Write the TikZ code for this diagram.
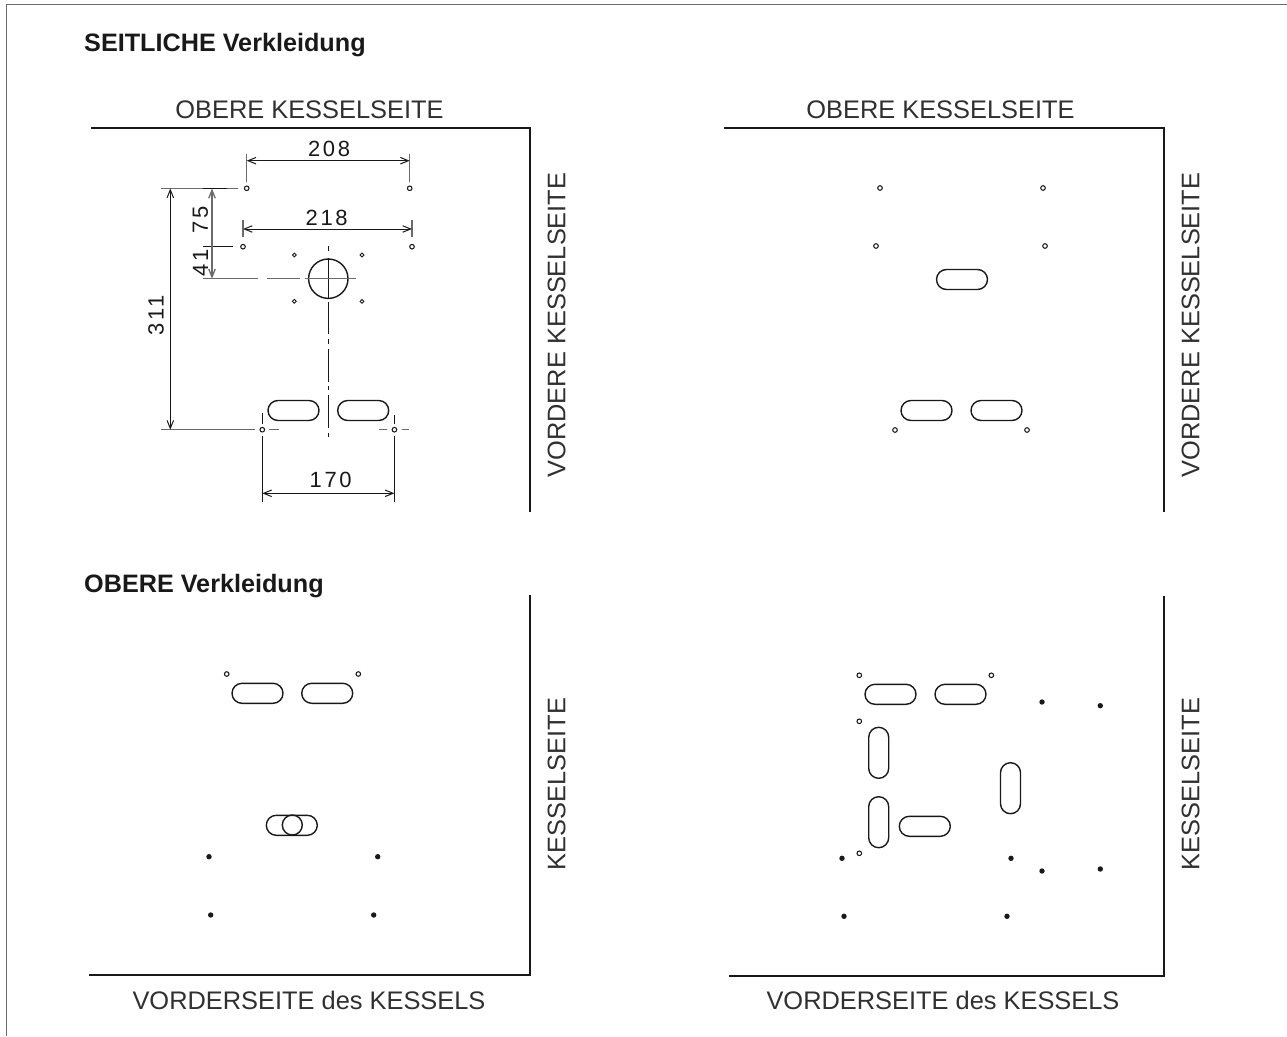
\documentclass[tikz,border=0pt]{standalone}
\usepackage{fontspec}
\setmainfont{Liberation Sans}
\usetikzlibrary{arrows.meta}
\definecolor{ln}{gray}{0.1}
\definecolor{gl}{gray}{0.42}
\tikzset{
  x=1pt,y=-1pt,
  wall/.style={draw=ln,line width=1.8pt},
  slotline/.style={draw=ln,line width=1.4pt},
  hole/.style={circle,draw=ln,line width=1.05pt,inner sep=0pt,minimum size=4.6pt,fill=white},
  hole2/.style={circle,draw=ln,line width=0.9pt,inner sep=0pt,minimum size=3.8pt,fill=white},
  dot/.style={circle,fill=ln,inner sep=0pt,minimum size=5.4pt},
  ext/.style={draw=gl,line width=1.3pt},
  extd/.style={draw=ln,line width=1.1pt},
  tips/.style={{Straight Barb[length=8pt,width=6.5pt]}-{Straight Barb[length=8pt,width=6.5pt]}},
  dim/.style={draw=ln,line width=1pt,tips},
  dimg/.style={draw=gl,line width=1.3pt,tips},
  lab/.style={font=\fontsize{25.4}{25.4}\selectfont,text=ln!90!white,inner sep=0pt},
  num/.style={font=\fontsize{22}{22}\selectfont\addfontfeatures{LetterSpace=12},text=ln,inner sep=0pt},
  ttl/.style={font=\fontsize{25.2}{25.2}\selectfont\bfseries,text=ln,inner sep=0pt,anchor=base west},
}
\newcommand{\hslot}[2]{\draw[slotline] (#1+10,#2) -- ++(31,0) arc (-90:90:10) -- ++(-31,0) arc (90:270:10) -- cycle;}
\newcommand{\vslot}[2]{\draw[slotline] (#1,#2+10) arc (180:360:10) -- ++(0,31) arc (0:180:10) -- cycle;}
\begin{document}
\begin{tikzpicture}
\useasboundingbox (0,0) rectangle (1287,1036);
\draw[draw=gl,line width=1.3pt] (6.7,1036)--(6.7,4.7)--(1287,4.7);
% walls
\coordinate (w1a) at (91,128); \coordinate (w1b) at (530,128); \coordinate (w1c) at (530,512);
\coordinate (w2a) at (724,128); \coordinate (w2b) at (1164,128); \coordinate (w2c) at (1164,512);
\coordinate (w3a) at (530,595); \coordinate (w3b) at (530,975); \coordinate (w3c) at (89,975);
\coordinate (w4a) at (1164,596); \coordinate (w4b) at (1164,976); \coordinate (w4c) at (729,976);
\draw[wall] (w1a)--(w1b)--(w1c);
\draw[wall] (w2a)--(w2b)--(w2c);
\draw[wall] (w3a)--(w3b)--(w3c);
\draw[wall] (w4a)--(w4b)--(w4c);
% titles
\node[ttl] (t1) at (84,51.7) {SEITLICHE Verkleidung};
\node[ttl] (t2) at (84,592.5) {OBERE Verkleidung};
\node[lab,anchor=base] (a1) at (309.5,118) {OBERE KESSELSEITE};
\node[lab,anchor=base] (a2) at (940.5,118) {OBERE KESSELSEITE};
\node[lab,rotate=90] (b1) at (556.7,325) {VORDERE KESSELSEITE};
\node[lab,rotate=90] (b2) at (1190.5,325) {VORDERE KESSELSEITE};
\node[lab,rotate=90] (c1) at (556.7,784) {KESSELSEITE};
\node[lab,rotate=90] (c2) at (1190.5,784) {KESSELSEITE};
\node[lab,anchor=base] (d1) at (309,1009.3) {VORDERSEITE des KESSELS};
\node[lab,anchor=base] (d2) at (943,1009.3) {VORDERSEITE des KESSELS};
% panel 1 holes
\node[hole] (h1) at (246.7,188.3) {};
\node[hole] (h2) at (409.7,188.3) {};
\node[hole] (h3) at (243,246.7) {};
\node[hole] (h4) at (412,246.7) {};
\node[hole2] (h5) at (294.3,255) {};
\node[hole2] (h6) at (362,255) {};
\node[hole2] (h7) at (294.3,301.3) {};
\node[hole2] (h8) at (362,301.3) {};
\node[hole] (h9) at (262.3,429.7) {};
\node[hole] (h10) at (394.4,429.7) {};
\coordinate (cc) at (328.3,278.7);
\draw[slotline] (cc) circle (19.7);
\hslot{268}{400.5}
\hslot{337.7}{400.5}
% centre lines
\draw[extd] (328.3,246)--(328.3,251);
\draw[extd] (328.3,258)--(328.3,298);
\draw[extd] (328.3,302)--(328.3,334.3);
\draw[extd] (328.3,339.3)--(328.3,344);
\draw[extd] (328.3,349.3)--(328.3,381.7);
\draw[extd] (328.3,386)--(328.3,390);
\draw[extd] (328.3,395)--(328.3,427.7);
\draw[extd] (328.3,432.7)--(328.3,437.3);
\draw[ext] (202.7,278.7)--(258,278.7);
\draw[ext] (267.3,278.7)--(300,278.7);
\draw[ext] (305,278.7)--(356,278.7);
% extension lines
\draw[ext] (246.7,182)--(246.7,154);
\draw[ext] (409.7,182)--(409.7,154);
\draw[ext] (243,237.3)--(243,220);
\draw[ext] (412,237.3)--(412,220);
\draw[ext] (161,188.5)--(237.7,188.5);
\draw[draw=ln,line width=1.8pt] (202.7,188.5)--(227.3,188.5);
\draw[draw=ln,line width=1.4pt] (202.7,246.7)--(233.3,246.7);
\draw[ext] (161,429.7)--(255,429.7);
\draw[extd] (262.3,413.3)--(262.3,424);
\draw[extd] (262.3,436)--(262.3,502.3);
\draw[extd] (394.4,415)--(394.4,424);
\draw[extd] (394.4,436)--(394.4,502.3);
\draw[ext] (269.3,429.7)--(279.3,429.7);
\draw[ext] (379.3,429.7)--(387.3,429.7);
\draw[ext] (401.7,429.7)--(409.3,429.7);
% dimensions
\draw[dim] (246.7,160.7)--(409.7,160.7);
\draw[dim] (243,229)--(412,229);
\draw[dimg] (212,188.5)--(212,278.7);
\draw[dim] (170.3,188.5)--(170.3,429.7);
\draw[dim] (262.3,493.3)--(394.4,493.3);
\node[num] (n1) at (329,149) {208};
\node[num] (n2) at (326.7,218) {218};
\node[num,rotate=90] (n3) at (200.5,220) {75};
\node[num,rotate=90] (n4) at (200.5,263) {41};
\node[num,rotate=90] (n5) at (156,315.5) {311};
\node[num] (n6) at (330.7,480) {170};
% panel 2
\node[hole] (p1) at (880,188) {};
\node[hole] (p2) at (1043,188) {};
\node[hole] (p3) at (876,246) {};
\node[hole] (p4) at (1045,246) {};
\node[hole] (p5) at (895,430) {};
\node[hole] (p6) at (1027,430) {};
\hslot{936.5}{269.5}
\hslot{901}{400.5}
\hslot{971}{400.5}
% panel 3
\node[hole] (q1) at (226.7,674) {};
\node[hole] (q2) at (358.3,674) {};
\hslot{232}{683.3}
\hslot{301.7}{683.3}
\hslot{266.3}{815.3}
\draw[slotline] (292.3,825) circle (10);
\node[dot] (q3) at (209,856.7) {};
\node[dot] (q4) at (377.7,856.7) {};
\node[dot] (q5) at (210.7,915) {};
\node[dot] (q6) at (373.7,915) {};
% panel 4
\node[hole] (r1) at (859.3,675.3) {};
\node[hole] (r2) at (991.3,675.3) {};
\node[hole] (r3) at (859.3,721.3) {};
\node[hole] (r4) at (859.3,853.3) {};
\hslot{865}{684.3}
\hslot{935}{684.3}
\hslot{899.3}{816.3}
\vslot{868.7}{727.3}
\vslot{868.7}{796.7}
\vslot{1000.5}{762.7}
\node[dot] (s1) at (1042,702) {};
\node[dot] (s2) at (1100.3,705.7) {};
\node[dot] (s3) at (842,858.3) {};
\node[dot] (s4) at (1011,858.3) {};
\node[dot] (s5) at (1042,871) {};
\node[dot] (s6) at (1100.3,869) {};
\node[dot] (s7) at (844,916.3) {};
\node[dot] (s8) at (1007,916.3) {};
\end{tikzpicture}
\end{document}
